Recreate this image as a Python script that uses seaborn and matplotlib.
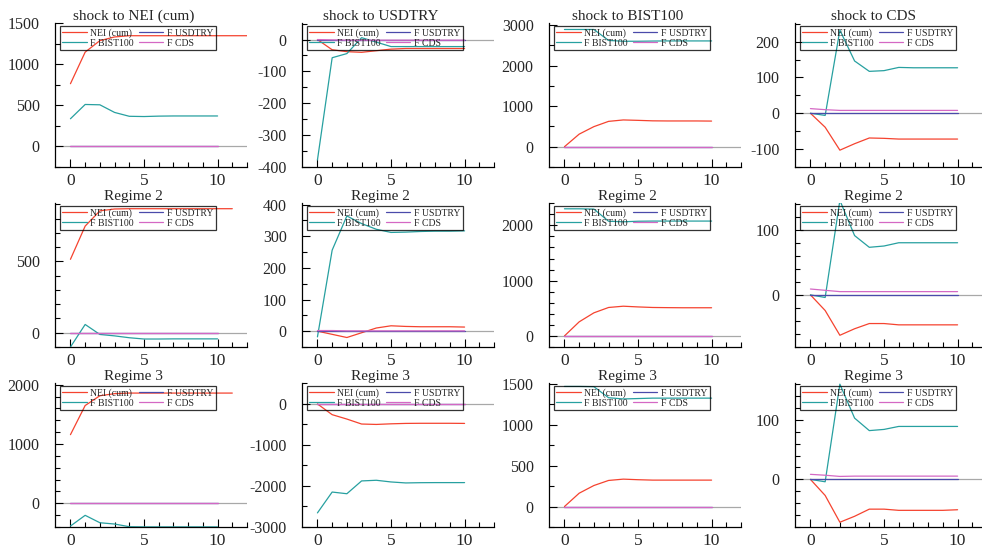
import pandas as pd
import seaborn as sns
import matplotlib.pyplot as plt
from matplotlib.ticker import MultipleLocator, FixedLocator

# panel titles (row by row)
titles = ["shock to NEI (cum)", "shock to USDTRY", "shock to BIST100", "shock to CDS",
          "Regime 2", "Regime 2", "Regime 2", "Regime 2",
          "Regime 3", "Regime 3", "Regime 3", "Regime 3"]
series_names = ["NEI (cum)", "F BIST100", "F USDTRY", "F CDS"]

zeros = [0, 0, 0, 0, 0, 0, 0, 0, 0, 0, 0]

# regime 1
nei_11 = [765, 1150, 1290, 1335, 1350, 1350, 1350, 1350, 1350, 1350, 1350, 1350, 1350]
bist_11 = [338, 512, 508, 415, 368, 365, 370, 372, 372, 372, 372]
nei_12 = [0, -32, -38, -40, -35, -30, -28, -28, -28, -28, -28]
bist_12 = [-378, -57, -44, 6, -8, -22, -22, -22, -22, -22, -22]
cds_12 = [0, -1, -2, -2, -2, -2, -2, -2, -2, -2, -2]
nei_13 = [0, 310, 495, 625, 660, 650, 638, 635, 635, 635, 632]
bist_13 = [2890, 2890, 2890, 2620, 2600, 2600, 2605, 2608, 2608, 2608, 2608]
nei_14 = [0, -39, -103, -85, -69, -70, -72, -72, -72, -72, -72]
bist_14 = [0, -6, 232, 146, 117, 119, 128, 127, 127, 127, 127]
cds_14 = [13, 10, 8, 8, 8, 8, 8, 8, 8, 8, 8]

# regime 2
nei_21 = [515, 748, 855, 868, 870, 870, 870, 870, 870, 870, 870, 870]
bist_21 = [-100, 58, -12, -22, -35, -44, -44, -43, -43, -43, -43]
nei_22 = [0, -10, -20, -5, 10, 17, 15, 14, 14, 14, 13]
bist_22 = [-18, 256, 364, 340, 322, 312, 313, 315, 316, 316, 317]
cds_22 = [2, 2, 1, 1, 1, 1, 1, 1, 1, 1, 1]
nei_23 = [0, 255, 418, 515, 538, 525, 515, 512, 510, 510, 510]
bist_23 = [2300, 2300, 2295, 2075, 2065, 2075, 2078, 2078, 2078, 2078, 2078]
nei_24 = [0, -24, -62, -52, -44, -44, -46, -46, -46, -46, -46]
bist_24 = [0, -4, 145, 91, 73, 75, 80, 80, 80, 80, 80]
cds_24 = [9, 7, 5, 5, 5, 5, 5, 5, 5, 5, 5]

# regime 3
nei_31 = [1158, 1650, 1815, 1850, 1860, 1860, 1860, 1860, 1860, 1860, 1860, 1860]
bist_31 = [-384, -203, -328, -350, -395, -398, -398, -398, -398, -398, -398]
nei_32 = [0, -262, -369, -490, -500, -485, -475, -472, -472, -472, -475]
bist_32 = [-2656, -2148, -2189, -1877, -1861, -1902, -1926, -1920, -1918, -1918, -1918]
nei_33 = [0, 163, 257, 319, 335, 328, 323, 323, 323, 323, 323]
bist_33 = [1468, 1468, 1465, 1330, 1315, 1320, 1325, 1325, 1325, 1325, 1325]
nei_34 = [0, -27, -72, -62, -50, -50, -52, -52, -52, -52, -51]
bist_34 = [0, -4, 160, 103, 82, 84, 89, 89, 89, 89, 89]
cds_34 = [8.5, 7, 5, 5.5, 5.5, 5.5, 5.5, 5.5, 5.5, 5.5, 5.5]

panels = [
    (nei_11, bist_11, zeros, zeros), (nei_12, bist_12, zeros, cds_12),
    (nei_13, bist_13, zeros, zeros), (nei_14, bist_14, zeros, cds_14),
    (nei_21, bist_21, zeros, zeros), (nei_22, bist_22, zeros, cds_22),
    (nei_23, bist_23, zeros, zeros), (nei_24, bist_24, zeros, cds_24),
    (nei_31, bist_31, zeros, zeros), (nei_32, bist_32, zeros, zeros),
    (nei_33, bist_33, zeros, zeros), (nei_34, bist_34, zeros, cds_34),
]

# axis ranges and tick steps (ylim, major, minor)
y_setup = [
    ((-250, 1505), 500, 250), ((-400, 52), 100, 50), ((-500, 3050), 1000, 500), ((-150, 252), 100, 50),
    ((-100, 910), 500, 100), ((-50, 405), 100, 50), ((-200, 2405), 1000, 200), ((-80, 141), 100, 20),
    ((-400, 2030), 1000, 200), ((-3000, 510), 1000, 500), ((-250, 1510), 500, 250), ((-80, 162), 100, 20),
]

colors = {"NEI (cum)": "#f5432f", "F BIST100": "#27a0a0",
          "F USDTRY": "#4a4aaa", "F CDS": "#d468c4"}

sns.set_style("ticks")
plt.rcParams["font.family"] = ["Liberation Serif", "DejaVu Serif"]
plt.rcParams["axes.unicode_minus"] = False

fig = plt.figure(figsize=(9.82, 5.52), dpi=100)
col_left = [55, 302, 549, 795]
row_top = [23, 203, 383]
w, h = 192, 144

for i, (title, vals) in enumerate(zip(titles, panels)):
    r, c = divmod(i, 4)
    ax = fig.add_axes([col_left[c] / 982, 1 - (row_top[r] + h) / 552, w / 982, h / 552])

    frames = []
    for name, v in zip(series_names, vals):
        frames.append(pd.DataFrame({"step": range(len(v)), "value": v, "series": name}))
    df = pd.concat(frames, ignore_index=True)

    ax.axhline(0, color="#a8a8a8", lw=0.9, zorder=0.5)
    sns.lineplot(data=df, x="step", y="value", hue="series", hue_order=series_names,
                 palette=colors, linewidth=0.9, ax=ax)

    ylim, major, minor = y_setup[i]
    ax.set_xlim(-1.05, 12)
    ax.set_ylim(ylim)
    ax.xaxis.set_major_locator(FixedLocator([0, 5, 10]))
    ax.xaxis.set_minor_locator(FixedLocator(list(range(13))))
    ax.yaxis.set_major_locator(MultipleLocator(major))
    ax.yaxis.set_minor_locator(MultipleLocator(minor))
    ax.tick_params(which="both", direction="in", width=0.8, color="black")
    ax.tick_params(which="major", length=6)
    ax.tick_params(which="minor", length=3.5)
    ax.tick_params(axis="y", pad=11, labelsize=11.5)
    ax.tick_params(axis="x", pad=4, labelsize=12.5)
    sns.despine(ax=ax)
    for s in ["left", "bottom"]:
        ax.spines[s].set_color("black")
        ax.spines[s].set_linewidth(0.9)
    ax.set_xlabel("")
    ax.set_ylabel("")
    ax.set_title(title, x=0.41, pad=2, fontsize=11)

    handles, labels = ax.get_legend_handles_labels()
    leg = ax.legend(handles, labels, ncol=2, loc="upper left", bbox_to_anchor=(0.025, 0.98),
                    fontsize=7, frameon=True, fancybox=False, edgecolor="black",
                    handlelength=2.5, handletextpad=0.4, columnspacing=0.5,
                    borderpad=0.25, labelspacing=0.1, borderaxespad=0)
    leg.get_frame().set_facecolor("none")
    leg.get_frame().set_linewidth(0.9)

fig.savefig("out.png", dpi=100)
